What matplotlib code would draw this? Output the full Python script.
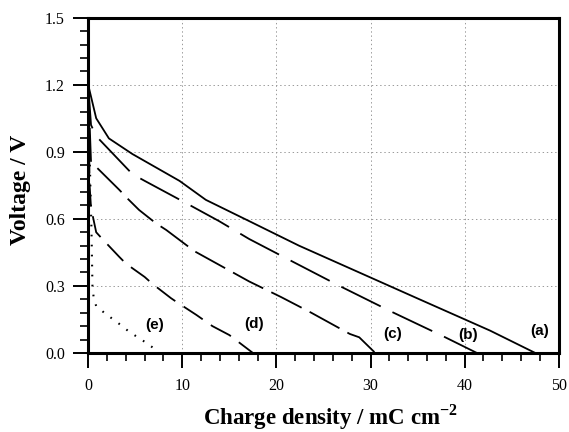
import matplotlib
matplotlib.use('Agg')
import matplotlib.pyplot as plt
from matplotlib.ticker import MultipleLocator, FormatStrFormatter

# Curvas de descarga (densidade de carga em mC/cm2, tensao em V)
charge_a = [0, 0.85, 2.2, 4.7, 9.7, 12.5, 17.1, 22.4, 35.2, 42.7, 47.5]
voltage_a = [1.2, 1.05, 0.96, 0.89, 0.77, 0.685, 0.59, 0.48, 0.24, 0.10, 0.0]

charge_b = [0, 0.3, 0.85, 4.7, 6.0, 10.2, 13.9, 17.1, 21.2, 26.7, 32.2, 37.7, 41.3]
voltage_b = [1.2, 1.02, 0.97, 0.80, 0.77, 0.675, 0.59, 0.51, 0.42, 0.30, 0.185, 0.075, 0.0]

charge_c = [0, 0.3, 3.3, 4.2, 5.4, 7.2, 8.3, 11.3, 17.1, 20.5, 23.7, 27.8, 28.8, 30.5]
voltage_c = [1.2, 0.855, 0.73, 0.69, 0.64, 0.58, 0.55, 0.455, 0.32, 0.25, 0.18, 0.085, 0.07, 0.0]

charge_d = [0, 0.15, 0.3, 0.85, 1.5, 3.3, 4.0, 6.0, 6.8, 8.8, 9.5, 11.5, 13.2, 15.0, 17.5]
voltage_d = [1.2, 0.75, 0.65, 0.54, 0.51, 0.43, 0.40, 0.34, 0.31, 0.245, 0.225, 0.17, 0.12, 0.08, 0.0]

charge_e = [0, 0.2, 0.35, 0.45, 0.6, 0.85, 1.7, 2.5, 3.3, 4.2, 4.9, 6.0, 7.0]
voltage_e = [1.2, 0.8, 0.55, 0.3, 0.24, 0.21, 0.18, 0.155, 0.13, 0.10, 0.08, 0.05, 0.02]

labels = ['(a)', '(b)', '(c)', '(d)', '(e)']
label_x = [48.0, 40.4, 32.4, 17.6, 7.1]
label_y = [0.10, 0.08, 0.085, 0.13, 0.125]

x_ticks = [0, 10, 20, 30, 40, 50]
y_ticks = [0.0, 0.3, 0.6, 0.9, 1.2, 1.5]

plt.rcParams['lines.scale_dashes'] = False
plt.rcParams['mathtext.fontset'] = 'custom'
plt.rcParams['mathtext.rm'] = 'Liberation Serif'
plt.rcParams['mathtext.bf'] = 'Liberation Serif:bold'

fig = plt.figure(figsize=(5.69, 4.32), dpi=100)
ax = fig.add_axes([0.155, 0.183, 0.827, 0.776])

ax.plot(charge_a, voltage_a, color='black', lw=1.3, linestyle='-')
ax.plot(charge_b, voltage_b, color='black', lw=1.3, dashes=(31.7, 9.4))
ax.plot(charge_c, voltage_c, color='black', lw=1.3, dashes=(24.5, 6.5))
ax.plot(charge_d, voltage_d, color='black', lw=1.3, dashes=(16.5, 7.2))
ax.plot(charge_e, voltage_e, color='black', lw=1.5, dashes=(1.2, 6.0))

for txt, lx, ly in zip(labels, label_x, label_y):
    ax.text(lx, ly, txt, ha='center', va='center', fontsize=11,
            fontweight='bold', family='Liberation Sans')

ax.set_xlim(0, 50)
ax.set_ylim(0, 1.5)
ax.set_xticks(x_ticks)
ax.set_yticks(y_ticks)
ax.xaxis.set_minor_locator(MultipleLocator(2))
ax.yaxis.set_minor_locator(MultipleLocator(0.06))
ax.yaxis.set_major_formatter(FormatStrFormatter('%.1f'))

# grade pontilhada clara
ax.grid(True, which='major', color='0.6', linestyle=(0, (1, 2)), lw=0.7)
ax.set_axisbelow(True)

for sp in ax.spines.values():
    sp.set_linewidth(2.2)

ax.tick_params(which='major', direction='out', length=10.8, width=1.4, labelsize=11.5, pad=6)
ax.tick_params(which='minor', direction='out', length=5.5, width=1.2)
ax.tick_params(axis='x', which='major', pad=7)
for lab in ax.get_xticklabels() + ax.get_yticklabels():
    lab.set_family('Liberation Serif')

ax.set_xlabel(r'Charge density / mC cm$^{\mathbf{-2}}$', fontsize=16.5,
              fontweight='bold', family='Liberation Serif')
ax.xaxis.label.set_va('baseline')
ax.xaxis.set_label_coords(0.514, -0.212)
ax.set_ylabel('Voltage / V', fontsize=17, fontweight='bold', family='Liberation Serif')
ax.yaxis.label.set_va('center')
ax.yaxis.set_label_coords(-0.144, 0.487)

fig.savefig('out.png', dpi=100)
